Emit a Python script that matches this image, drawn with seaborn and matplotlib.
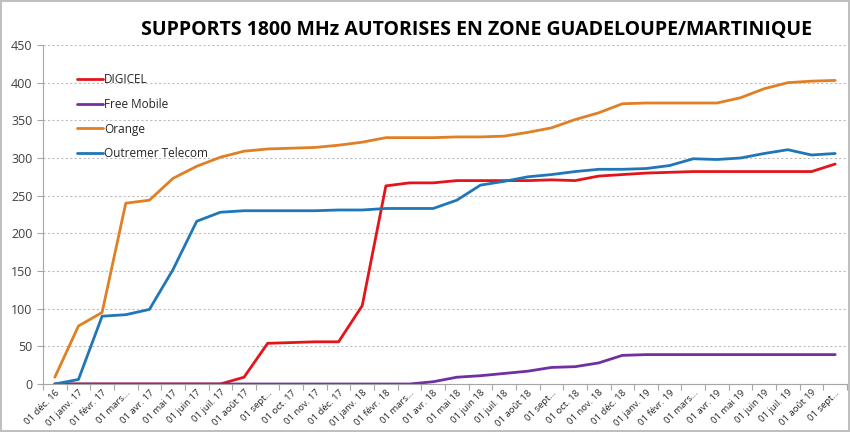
import pandas as pd
import matplotlib.pyplot as plt
import seaborn as sns

# Monthly values, Dec 2016 -> Sept 2019
months = ["01 déc. 16", "01 janv. 17", "01 févr. 17", "01 mars...", "01 avr. 17",
          "01 mai 17", "01 juin 17", "01 juil. 17", "01 août 17", "01 sept...",
          "01 oct. 17", "01 nov. 17", "01 déc. 17", "01 janv. 18", "01 févr. 18",
          "01 mars...", "01 avr. 18", "01 mai 18", "01 juin 18", "01 juil. 18",
          "01 août 18", "01 sept...", "01 oct. 18", "01 nov. 18", "01 déc. 18",
          "01 janv. 19", "01 févr. 19", "01 mars...", "01 avr. 19", "01 mai 19",
          "01 juin 19", "01 juil. 19", "01 août 19", "01 sept..."]

digicel = [0, 0, 0, 0, 0, 0, 0, 0, 9, 54, 55, 56, 56, 104, 263, 267, 267, 270,
           270, 270, 270, 271, 270, 276, 278, 280, 281, 282, 282, 282, 282, 282, 282, 292]
free_mobile = [0, 0, 0, 0, 0, 0, 0, 0, 0, 0, 0, 0, 0, 0, 0, 0, 3, 9,
               11, 14, 17, 22, 23, 28, 38, 39, 39, 39, 39, 39, 39, 39, 39, 39]
orange = [9, 77, 95, 240, 244, 273, 289, 301, 309, 312, 313, 314, 317, 321, 327, 327, 327, 328,
          328, 329, 334, 340, 351, 360, 372, 373, 373, 373, 373, 380, 392, 400, 402, 403]
outremer = [0, 6, 90, 92, 99, 152, 216, 228, 230, 230, 230, 230, 231, 231, 233, 233, 233, 244,
            264, 269, 275, 278, 282, 285, 285, 286, 290, 299, 298, 300, 306, 311, 304, 306]

operators = ["DIGICEL", "Free Mobile", "Orange", "Outremer Telecom"]
colors = ["#E3151B", "#7030A0", "#E07F24", "#1F77B8"]

rows = []
for name, vals in zip(operators, [digicel, free_mobile, orange, outremer]):
    for i, v in enumerate(vals):
        rows.append({"idx": i, "value": v, "Operateur": name})
df = pd.DataFrame(rows)

sns.set_style("white")
plt.rcParams['font.family'] = ['Open Sans', 'DejaVu Sans']

fig = plt.figure(figsize=(8.5, 4.32), dpi=100)
fig.patch.set_edgecolor("#BFBFBF")
fig.patch.set_linewidth(1.5)
ax = fig.add_axes([43 / 850, 1 - 384 / 432, 804 / 850, 339 / 432])

sns.lineplot(data=df, x="idx", y="value", hue="Operateur", hue_order=operators,
             palette=colors, linewidth=2.0, ax=ax)

ax.set_xlim(-0.5, len(months) - 0.5)
ax.set_ylim(0, 450)
ax.set_yticks(range(0, 451, 50))
ax.set_xlabel("")
ax.set_ylabel("")

# labels at category centres, tick marks between categories
ax.set_xticks(range(len(months)))
ax.set_xticklabels(months, rotation=45, ha="right", rotation_mode="anchor", fontsize=6.8)
ax.set_xticks([i - 0.5 for i in range(len(months) + 1)], minor=True)
ax.tick_params(axis="x", which="major", length=0, pad=3, colors="#262626")
ax.tick_params(axis="x", which="minor", length=4, color="#A6A6A6", width=0.8, bottom=True)
ax.tick_params(axis="y", length=4, width=0.8, labelsize=9, labelcolor="#404040",
               color="#A6A6A6", left=True)

ax.grid(axis="y", linestyle=(0, (2, 2)), color="#BFBFBF", linewidth=0.8)
ax.grid(axis="x", visible=False)
for side in ["top", "right"]:
    ax.spines[side].set_visible(False)
for side in ["left", "bottom"]:
    ax.spines[side].set_color("#A6A6A6")
    ax.spines[side].set_linewidth(0.8)

ax.legend(title=None, loc="upper left", bbox_to_anchor=(0.035, 0.935), frameon=False,
          fontsize=8.5, handlelength=2.2, handletextpad=0.1, labelspacing=1.0, borderpad=0)

fig.text(0.56, 0.93, "SUPPORTS 1800 MHz AUTORISES EN ZONE GUADELOUPE/MARTINIQUE",
         ha="center", va="center", fontsize=14, fontweight="bold", color="#000000")

fig.savefig("out.png", dpi=100)
